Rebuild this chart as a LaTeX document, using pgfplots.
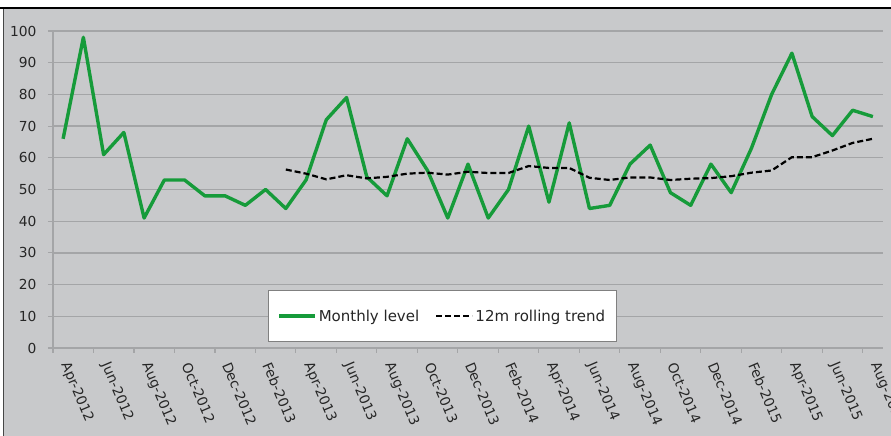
\documentclass[border=0pt]{standalone}
\usepackage{fontspec}
\setmainfont{DejaVu Sans}
\usepackage{pgfplots}
\usepackage{pgfplotstable}
\pgfplotsset{compat=1.18}

\definecolor{bggray}{RGB}{200,201,203}
\definecolor{gridgray}{RGB}{164,165,167}
\definecolor{framegray}{RGB}{70,70,70}
\definecolor{lvlgreen}{RGB}{22,155,58}
\definecolor{labelink}{RGB}{38,38,38}

% month index (0 = Apr-2012) and value
\pgfplotstableread{
m  v
0  66
1  98
2  61
3  68
4  41
5  53
6  53
7  48
8  48
9  45
10 50
11 44
12 53
13 72
14 79
15 54
16 48
17 66
18 56
19 41
20 58
21 41
22 50
23 70
24 46
25 71
26 44
27 45
28 58
29 64
30 49
31 45
32 58
33 49
34 63
35 80
36 93
37 73
38 67
39 75
40 73
}\monthly

\pgfplotstableread{
m  v
11 56.3
12 55.0
13 53.2
14 54.5
15 53.5
16 54.0
17 55.0
18 55.3
19 54.7
20 55.6
21 55.2
22 55.2
23 57.4
24 56.8
25 56.8
26 53.7
27 53.0
28 53.8
29 53.8
30 53.0
31 53.4
32 53.6
33 54.2
34 55.3
35 56.0
36 60.2
37 60.2
38 62.3
39 64.7
40 66.0
}\trend

\begin{document}
\begin{tikzpicture}[x=1pt,y=1pt]
\path[use as bounding box] (0,0) rectangle (891,436);
\clip (0,0) rectangle (891,436);
\fill[white] (0,0) rectangle (891,436);
\fill[bggray] (3,0) rectangle (891,426.5);
\draw[line width=2pt, black] (0,427.5) -- (891,427.5);
\draw[line width=1.3pt, framegray] (3.2,0) -- (3.2,426.5);

\begin{axis}[
  at={(53pt,88pt)}, anchor=south west,
  width=830pt, height=317pt, scale only axis,
  xmin=-0.5, xmax=40.5, ymin=0, ymax=100,
  axis lines=left,
  axis line style={-, draw=gridgray, line width=1.3pt},
  ytick={0,10,...,100},
  ymajorgrids,
  grid style={draw=gridgray, line width=1.3pt},
  yticklabel style={xshift=-8pt},
  xtick={-0.5,1.5,...,39.5},
  xticklabels={},
  extra x ticks={0,2,...,40},
  extra x tick labels={Apr-2012,Jun-2012,Aug-2012,Oct-2012,Dec-2012,Feb-2013,
    Apr-2013,Jun-2013,Aug-2013,Oct-2013,Dec-2013,Feb-2014,Apr-2014,Jun-2014,
    Aug-2014,Oct-2014,Dec-2014,Feb-2015,Apr-2015,Jun-2015,Aug-2015},
  extra x tick style={major tick length=0pt, grid=none,
    tick label style={xshift=0pt, yshift=-12pt, rotate=-67, anchor=west}},
  tick align=outside,
  major tick length=5pt,
  tick style={draw=gridgray, line width=1.1pt},
  tick label style={font=\fontsize{13.8}{15}\selectfont, text=labelink},
  /pgf/number format/assume math mode=true,
  clip=false,
  legend style={at={(axis description cs:0.259,0.019)}, anchor=south west,
    fill=white, draw=gray, line width=0.8pt,
    font=\fontsize{15}{17}\selectfont, text=labelink,
    legend columns=2, inner xsep=9pt, inner ysep=17pt,
    /tikz/every even column/.append style={column sep=14pt}},
  legend image code/.code={\draw[#1] (0pt,0pt) -- (36pt,0pt);},
]
\addplot[lvlgreen, line width=3.4pt, line join=round] table[x=m, y=v] {\monthly};
\addlegendentry{Monthly level}
\addplot[black, line width=2.2pt, dash pattern=on 6pt off 3pt] table[x=m, y=v] {\trend};
\addlegendentry{12m rolling trend}
\end{axis}
\end{tikzpicture}
\end{document}
